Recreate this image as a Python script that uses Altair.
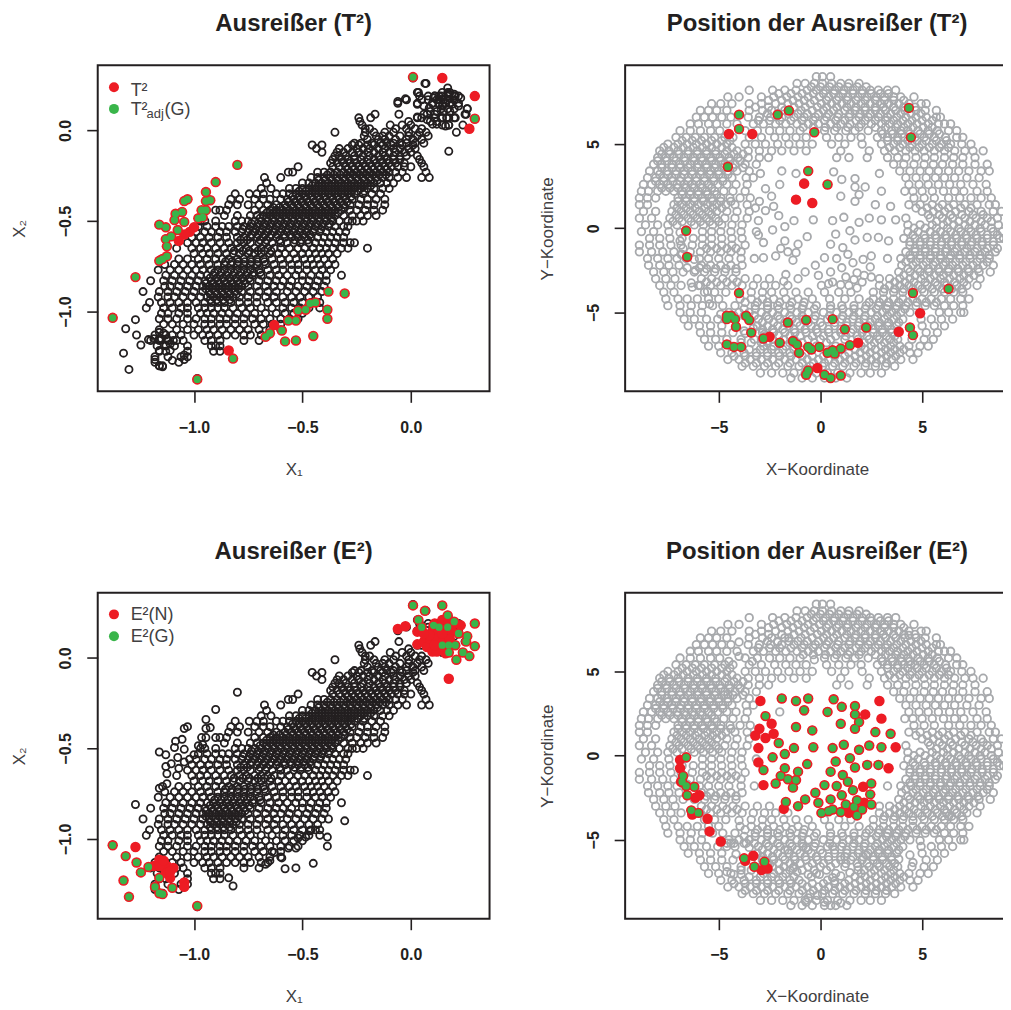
import altair as alt, pandas as pd

# --- scatter of the two features: rows of (X2, [X1 ...])
SCATTER_ROWS = [
(0.26,[0.07]),(0.21,[0.03,0.17,0.18]),(0.19,[0.04,0.08,0.11,0.13,0.14,0.17,0.2,0.22]),
(0.17,[-0.02,0.08,0.12,0.15,0.2]),(0.15,[-0.06,0.03,0.1,0.13,0.16,0.18,0.22]),
(0.12,[0.14,0.17,0.2,0.26]),(0.09,[-0.055,-0.165,0.075,0.25,0.11]),
(0.07,[-0.24,-0.185,0.05,0.03,0.145,0.165,0.2]),(0.05,[-0.235,-0.01,0.09,0.12]),
(0.03,[-0.225,-0.095,-0.04,0.0,0.145,0.175]),
(0.01,[-0.21,-0.19,-0.07,-0.02,0.05,0.02]),
(-0.01,[-0.35,-0.21,-0.17,-0.12,-0.08,-0.01,0.04,0.07]),
(-0.03,[-0.215,-0.16,-0.13,-0.1,-0.05,-0.01,0.03,0.08]),
(-0.05,[-0.2,-0.15,-0.12,-0.07,-0.02,0.01,0.05]),
(-0.07,[-0.26,-0.23,-0.18,-0.14,-0.11,-0.08,-0.05,-0.02,0.02,0.06]),
(-0.08,[-0.455,-0.41,-0.27,-0.24,-0.2,-0.17,-0.13,-0.09,-0.04,0.01]),
(-0.10,[-0.435,-0.33,-0.29,-0.25,-0.22,-0.19,-0.15,-0.12,-0.08,-0.05,-0.01,0.02]),
(-0.12,[-0.41,-0.34,-0.31,-0.27,-0.24,-0.2,-0.17,-0.13,-0.1,-0.07,-0.03,0.0]),
(-0.14,[-0.35,-0.33,-0.3,-0.26,-0.22,-0.19,-0.15,-0.12,-0.08,-0.05,-0.02,0.03]),
(-0.16,[-0.36,-0.32,-0.29,-0.26,-0.23,-0.2,-0.17,-0.14,-0.11,-0.08,-0.05,0.04]),
(-0.18,[-0.37,-0.34,-0.31,-0.28,-0.25,-0.22,-0.19,-0.16,-0.13,-0.1,-0.07,-0.03,0.05]),
(-0.20,[-0.52,-0.36,-0.33,-0.3,-0.27,-0.24,-0.21,-0.18,-0.15,-0.12,-0.09,-0.06,-0.03,0.0,0.06]),
(-0.23,[-0.545,-0.565,-0.43,-0.4,-0.37,-0.34,-0.31,-0.28,-0.25,-0.22,-0.19,-0.16,-0.13,-0.1,-0.07,-0.04,0.07]),
(-0.26,[-0.675,-0.6,-0.46,-0.43,-0.4,-0.37,-0.34,-0.31,-0.28,-0.25,-0.22,-0.19,-0.16,-0.13,-0.1,-0.06,-0.02,0.05,0.085]),
(-0.29,[-0.665,-0.5,-0.47,-0.44,-0.41,-0.38,-0.35,-0.32,-0.29,-0.26,-0.23,-0.2,-0.17,-0.14,-0.11,-0.08]),
(-0.32,[-0.645,-0.69,-0.56,-0.53,-0.5,-0.47,-0.44,-0.41,-0.38,-0.35,-0.32,-0.29,-0.26,-0.23,-0.2,-0.17,-0.13,-0.1]),
(-0.35,[-0.745,-0.81,-0.71,-0.68,-0.62,-0.59,-0.56,-0.53,-0.5,-0.47,-0.44,-0.41,-0.38,-0.35,-0.32,-0.29,-0.26,-0.22,-0.18,-0.14]),
(-0.38,[-0.83,-0.79,-0.72,-0.68,-0.65,-0.6,-0.57,-0.54,-0.51,-0.48,-0.45,-0.42,-0.39,-0.36,-0.33,-0.3,-0.27,-0.23,-0.2,-0.16,-0.12]),
(-0.41,[-0.84,-0.8,-0.75,-0.7,-0.66,-0.62,-0.58,-0.55,-0.52,-0.49,-0.46,-0.43,-0.4,-0.37,-0.34,-0.31,-0.28,-0.24,-0.2,-0.17,-0.12]),
(-0.44,[-0.9,-0.88,-0.85,-0.72,-0.68,-0.65,-0.62,-0.59,-0.56,-0.53,-0.5,-0.47,-0.44,-0.41,-0.38,-0.35,-0.32,-0.28,-0.25,-0.21,-0.17,-0.13]),
(-0.47,[-0.86,-0.8,-0.74,-0.71,-0.68,-0.65,-0.62,-0.59,-0.56,-0.53,-0.5,-0.47,-0.44,-0.41,-0.38,-0.35,-0.31,-0.27,-0.23,-0.2,-0.16]),
(-0.50,[-0.97,-0.95,-0.9,-0.81,-0.78,-0.75,-0.72,-0.69,-0.66,-0.63,-0.6,-0.57,-0.54,-0.51,-0.48,-0.45,-0.42,-0.39,-0.36,-0.33,-0.29,-0.25,-0.22,-0.27]),
(-0.53,[-0.98,-0.94,-0.9,-0.87,-0.84,-0.8,-0.77,-0.74,-0.71,-0.68,-0.65,-0.62,-0.59,-0.56,-0.53,-0.5,-0.47,-0.44,-0.41,-0.38,-0.35,-0.31,-0.29]),
(-0.56,[-0.99,-0.95,-0.92,-0.88,-0.85,-0.81,-0.78,-0.75,-0.72,-0.69,-0.66,-0.63,-0.6,-0.57,-0.54,-0.51,-0.48,-0.45,-0.42,-0.39,-0.36,-0.33,-0.3]),
(-0.59,[-1.01,-0.97,-0.93,-0.89,-0.85,-0.8,-0.77,-0.74,-0.71,-0.68,-0.65,-0.62,-0.58,-0.55,-0.52,-0.49,-0.46,-0.43,-0.4,-0.37,-0.34,-0.31]),
(-0.62,[-1.03,-0.99,-0.96,-0.92,-0.88,-0.84,-0.8,-0.77,-0.74,-0.7,-0.67,-0.64,-0.6,-0.57,-0.54,-0.51,-0.47,-0.44,-0.41,-0.38,-0.35,-0.31,-0.28,-0.26]),
(-0.65,[-1.08,-1.01,-0.97,-0.94,-0.9,-0.86,-0.83,-0.79,-0.76,-0.72,-0.69,-0.66,-0.63,-0.6,-0.56,-0.52,-0.49,-0.45,-0.42,-0.39,-0.36,-0.32,-0.29,-0.2]),
(-0.68,[-1.0,-0.96,-0.93,-0.89,-0.85,-0.82,-0.79,-0.75,-0.72,-0.69,-0.65,-0.61,-0.58,-0.54,-0.5,-0.47,-0.44,-0.41,-0.38,-0.34]),
(-0.71,[-1.07,-1.03,-0.98,-0.94,-0.9,-0.87,-0.84,-0.8,-0.77,-0.74,-0.71,-0.68,-0.64,-0.6,-0.56,-0.53,-0.49,-0.46,-0.43,-0.4,-0.36]),
(-0.74,[-1.135,-1.09,-1.05,-1.01,-0.97,-0.93,-0.89,-0.86,-0.83,-0.8,-0.77,-0.74,-0.71,-0.67,-0.63,-0.59,-0.55,-0.52,-0.48,-0.45,-0.42,-0.38,-0.35]),
(-0.77,[-1.165,-1.11,-1.07,-1.03,-0.99,-0.96,-0.92,-0.89,-0.86,-0.83,-0.8,-0.77,-0.74,-0.7,-0.66,-0.62,-0.59,-0.55,-0.52,-0.48,-0.44,-0.41,-0.37]),
(-0.80,[-1.13,-1.09,-1.05,-1.01,-0.97,-0.94,-0.91,-0.88,-0.85,-0.82,-0.79,-0.76,-0.73,-0.69,-0.65,-0.61,-0.57,-0.53,-0.5,-0.46,-0.42,-0.39,-0.32]),
(-0.83,[-1.2,-1.14,-1.1,-1.06,-1.02,-0.98,-0.95,-0.92,-0.89,-0.86,-0.83,-0.8,-0.77,-0.74,-0.7,-0.66,-0.62,-0.59,-0.55,-0.5,-0.47,-0.43,-0.39]),
(-0.86,[-1.135,-1.11,-1.07,-1.03,-0.99,-0.96,-0.93,-0.9,-0.87,-0.84,-0.81,-0.78,-0.75,-0.71,-0.67,-0.63,-0.6,-0.56,-0.52,-0.48,-0.44,-0.4]),
(-0.89,[-1.235,-1.16,-1.12,-1.08,-1.04,-1.0,-0.96,-0.93,-0.9,-0.87,-0.84,-0.81,-0.78,-0.74,-0.7,-0.66,-0.62,-0.57,-0.53,-0.49,-0.45,-0.41]),
(-0.92,[-1.165,-1.12,-1.09,-1.05,-1.01,-0.97,-0.94,-0.91,-0.88,-0.85,-0.82,-0.79,-0.75,-0.71,-0.67,-0.63,-0.59,-0.55,-0.51,-0.47,-0.43]),
(-0.95,[-1.205,-1.15,-1.11,-1.07,-1.03,-0.99,-0.95,-0.92,-0.89,-0.86,-0.83,-0.79,-0.75,-0.71,-0.66,-0.62,-0.58,-0.54,-0.5,-0.46,-0.42]),
(-0.98,[-1.22,-1.14,-1.1,-1.06,-1.03,-0.98,-0.95,-0.92,-0.89,-0.86,-0.82,-0.78,-0.74,-0.69,-0.64,-0.59,-0.55,-0.51,-0.47,-0.42]),
(-1.01,[-1.15,-1.12,-1.07,-1.03,-0.97,-0.94,-0.91,-0.87,-0.84,-0.8,-0.76,-0.72,-0.67,-0.62,-0.58,-0.54,-0.5]),
(-1.04,[-1.16,-1.12,-1.08,-1.03,-0.99,-0.95,-0.92,-0.88,-0.85,-0.81,-0.77,-0.73,-0.69,-0.65,-0.6,-0.56,-0.52]),
(-1.07,[-1.14,-1.1,-1.05,-1.0,-0.95,-0.92,-0.88,-0.85,-0.81,-0.77,-0.72,-0.68,-0.64,-0.6]),
(-1.10,[-1.16,-1.08,-1.03,-0.98,-0.94,-0.91,-0.87,-0.83,-0.79,-0.75,-0.7,-0.65,-0.6]),
(-1.13,[-1.18,-1.13,-1.1,-1.06,-1.0,-0.96,-0.93,-0.89,-0.85,-0.81,-0.77,-0.74,-0.69,-0.66]),
(-1.16,[-1.2,-1.16,-1.12,-1.08,-1.05,-0.95,-0.92,-0.88,-0.77,-0.7]),
(-1.19,[-1.17,-1.13,-1.09,-1.03,-0.92,-0.9,-0.88]),
(-1.22,[-1.16,-1.13,-1.03,-0.91,-0.88]),
(-1.25,[-1.18,-1.12,-1.06,-1.03]),(-1.28,[-1.18,-1.07]),(-1.30,[-1.16,-1.145]),
# the solid black core
(-0.215,[-0.29,-0.26,-0.23,-0.2,-0.17,-0.14,-0.11]),
(-0.245,[-0.385,-0.355,-0.325,-0.295,-0.265,-0.235,-0.205,-0.175,-0.145,-0.115]),
(-0.275,[-0.425,-0.395,-0.365,-0.335,-0.305,-0.275,-0.245,-0.215,-0.185,-0.155]),
(-0.305,[-0.455,-0.425,-0.395,-0.365,-0.335,-0.305,-0.275,-0.245,-0.215,-0.185]),
(-0.335,[-0.515,-0.485,-0.455,-0.425,-0.395,-0.365,-0.335,-0.305,-0.275,-0.245,-0.215]),
(-0.365,[-0.545,-0.515,-0.485,-0.455,-0.425,-0.395,-0.365,-0.335,-0.305,-0.275]),
(-0.395,[-0.565,-0.535,-0.505,-0.475,-0.445,-0.415,-0.385,-0.355,-0.325,-0.295]),
(-0.425,[-0.635,-0.605,-0.575,-0.545,-0.515,-0.485,-0.455,-0.425,-0.395,-0.365,-0.335,-0.305]),
(-0.455,[-0.665,-0.635,-0.605,-0.575,-0.545,-0.515,-0.485,-0.455,-0.425,-0.395,-0.365,-0.335]),
(-0.485,[-0.695,-0.665,-0.635,-0.605,-0.575,-0.545,-0.515,-0.485,-0.455,-0.425,-0.395,-0.365]),
(-0.515,[-0.735,-0.705,-0.675,-0.645,-0.615,-0.585,-0.555,-0.525,-0.495,-0.465,-0.435,-0.405,-0.375]),
(-0.545,[-0.775,-0.745,-0.715,-0.685,-0.655,-0.625,-0.595,-0.565,-0.535,-0.505,-0.475,-0.445,-0.415]),
(-0.575,[-0.735,-0.705,-0.675,-0.645,-0.615,-0.585,-0.555,-0.525,-0.495,-0.465]),
(-0.605,[-0.785,-0.755,-0.695,-0.665,-0.605,-0.535,-0.505,-0.475]),
(-0.665,[-0.815,-0.775,-0.745,-0.705,-0.675,-0.645]),
(-0.725,[-0.855,-0.825,-0.795,-0.765,-0.735,-0.705,-0.675]),
(-0.785,[-0.905,-0.875,-0.845,-0.815,-0.785,-0.755,-0.725,-0.695]),
(-0.815,[-0.925,-0.895,-0.865,-0.835,-0.805,-0.775,-0.745]),
(-0.845,[-0.945,-0.915,-0.885,-0.855,-0.825,-0.795,-0.765]),
(-0.875,[-0.945,-0.915,-0.885,-0.855,-0.825,-0.795]),
(-0.905,[-0.925,-0.895,-0.865,-0.835,-0.805]),
(-0.935,[-0.925,-0.895,-0.865,-0.835]),
]

# outliers in feature space, T² panel
T_BOTH = [(0.01,0.295),(0.295,0.065),(-0.8,-0.19),(-0.9,-0.285),(-0.945,-0.34),(-0.925,-0.385),(-0.945,-0.39),
(-1.03,-0.38),(-1.045,-0.39),(-1.055,-0.45),(-1.085,-0.46),(-1.09,-0.495),(-1.045,-0.505),(-0.945,-0.44),(-0.965,-0.44),
(-0.98,-0.485),(-0.96,-0.48),(-1.16,-0.52),(-1.13,-0.535),(-1.075,-0.55),(-1.105,-0.585),(-1.13,-0.6),(-1.125,-0.64),
(-1.125,-0.695),(-1.16,-0.72),(-1.145,-0.71),(-1.27,-0.81),(-1.375,-1.035),(-0.985,-1.375),(-0.82,-1.26),
(-0.38,-0.89),(-0.305,-0.9),(-0.44,-0.95),(-0.465,-0.955),(-0.485,-0.99),(-0.52,-0.995),(-0.385,-0.99),(-0.385,-1.04),
(-0.53,-1.05),(-0.565,-1.05),(-0.595,-1.105),(-0.65,-1.12),(-0.67,-1.14),(-0.45,-1.135),(-0.53,-1.16),(-0.58,-1.165)]
T_RED = [(0.145,0.29),(0.295,0.19),(0.27,0.01),(-1.0,-0.535),(-1.02,-0.56),(-1.045,-0.575),(-1.07,-0.61),(-0.84,-1.215),(-0.63,-1.075)]

# outliers in feature space, E² panel
E_BOTH = [(0.01,0.29),(0.065,0.26),(0.145,0.29),(0.295,0.19),(0.295,0.065),(0.27,0.01),(0.24,0.03),(0.21,-0.01),(0.26,0.12),
(0.255,0.09),(0.035,0.21),(0.175,0.03),(0.22,0.135),(0.175,0.07),(0.205,0.07),(0.105,0.18),(0.13,0.17),(0.17,0.17),(0.2,0.2),
(0.145,0.07),(0.05,0.17),(0.17,0.235),
(-1.375,-1.035),(-1.315,-1.095),(-1.265,-1.13),(-1.245,-1.185),(-1.325,-1.23),(-1.3,-1.32),(-0.985,-1.37),(-1.18,-1.265),
(-1.16,-1.3),(-1.145,-1.305),(-1.1,-1.27),(-1.16,-1.215),(-1.21,-1.155)]
E_RED = [(-0.06,0.16),(-0.025,0.175),(0.175,-0.115),(0.03,0.145),(0.03,0.075),(0.06,0.09),(0.075,0.06),(0.1,0.035),(0.12,0.035),
(0.16,0.025),(0.11,0.19),(0.145,0.21),(0.175,0.2),(0.205,0.19),(0.23,0.18),(0.1,0.15),(0.13,0.145),(0.16,0.15),(0.19,0.145),
(0.09,0.105),(0.12,0.105),(0.15,0.105),(0.18,0.105),(0.11,0.07),(0.085,0.125),(0.145,0.135),(0.06,0.135),
(-1.27,-1.045),(-1.16,-1.115),(-1.185,-1.15),(-1.15,-1.15),(-1.125,-1.15),(-1.095,-1.16),(-1.13,-1.185),(-1.11,-1.215),
(-1.11,-1.18),(-1.045,-1.24),(-1.045,-1.265),(-1.16,-1.15),(-1.14,-1.12)]

# --- positions: rows of (Y, [X ...])
POS_ROWS = [
(9.0,[-0.2,0.1,0.5]),(8.6,[-1.15,-0.75,-0.3,0.1,0.55,1.0,1.4,1.9]),
(8.2,[-3.5,-2.35,-1.75,-1.2,-0.65,-0.2,0.25,0.7,1.15,1.6,2.05,2.45,2.85,3.3,3.7]),
(7.8,[-4.55,-4.0,-2.9,-2.3,-1.65,-1.1,-0.6,-0.05,0.4,0.9,1.35,1.85,2.3,2.75,3.15,3.6,3.95,4.6]),
(7.4,[-5.35,-4.9,-4.35,-3.5,-2.9,-2.2,-1.6,-1.05,-0.5,0.05,0.55,1.05,1.5,2.0,2.45,2.95,3.35,3.85,4.35,4.95,5.2]),
(7.0,[-5.9,-5.5,-5.1,-4.6,-3.5,-2.85,-2.4,-1.75,-0.95,-0.4,0.15,0.65,1.2,1.7,2.2,2.7,3.2,3.7,4.15,4.7,5.15,5.7]),
(6.6,[-6.1,-5.7,-5.3,-4.85,-4.4,-3.55,-3.0,-2.45,-1.9,-1.3,-0.8,-0.25,0.3,0.85,1.4,1.9,2.35,2.85,3.3,3.75,4.2,4.7,5.2,5.7,5.9]),
(6.2,[-6.4,-6.0,-5.5,-5.1,-4.6,-4.1,-3.3,-2.8,-2.2,-1.7,-1.15,-0.6,-0.1,0.5,1.0,1.45,2.0,2.5,3.0,3.4,3.8,4.3,4.75,5.3,5.8,6.1,6.4]),
(5.8,[-6.9,-6.4,-5.9,-5.4,-4.95,-3.7,-3.1,-2.5,-2.0,-1.5,-1.0,0.2,0.7,1.25,1.7,2.35,3.0,3.5,3.95,4.3,4.8,5.3,5.75,6.3,6.7]),
(5.4,[-7.1,-6.6,-6.15,-5.7,-5.2,-4.7,-4.3,-3.5,-2.9,-2.25,-1.7,-1.2,-0.7,0.3,0.9,1.5,2.0,2.8,3.3,3.8,4.1,4.65,5.1,5.6,6.15,6.7,7.0]),
(5.0,[-7.5,-7.0,-6.55,-6.1,-5.6,-5.1,-4.6,-3.7,-3.2,-2.7,-2.1,-1.55,-1.0,-0.4,0.55,1.2,2.05,3.0,3.6,4.05,4.5,5.0,5.5,5.95,6.4,6.95,7.4]),
(4.6,[-7.9,-7.45,-7.0,-6.5,-6.05,-5.6,-5.15,-4.6,-4.1,-3.55,-3.0,-2.4,-1.9,-1.3,-0.7,1.0,2.4,3.15,3.65,4.2,4.65,5.1,5.6,6.1,6.6,7.1,7.5,8.0]),
(4.2,[-8.0,-7.6,-7.2,-6.7,-6.25,-5.85,-5.4,-4.95,-4.5,-4.05,-3.55,-3.0,-2.55,0.8,1.4,2.3,3.3,3.8,4.2,4.7,5.15,5.6,6.1,6.55,7.0,7.6]),
(3.8,[-8.2,-7.8,-7.3,-6.9,-6.4,-6.0,-5.6,-5.15,-4.7,-4.2,-3.7,-3.15,3.6,4.1,4.6,5.1,5.55,6.0,6.5,7.0,7.6,8.2]),
(3.4,[-8.4,-8.0,-7.55,-7.1,-6.7,-6.3,-5.85,-5.4,-5.0,-4.55,-4.1,-3.5,3.9,4.4,4.9,5.35,5.8,6.3,6.8,7.3,7.9,8.3]),
(3.0,[-8.5,-8.1,-7.7,-7.3,-6.85,-6.5,-6.1,-5.7,-5.25,-4.8,-4.35,-3.65,-3.3,4.2,4.7,5.2,5.65,6.1,6.6,7.2,7.8]),
(2.6,[-8.7,-8.3,-7.9,-7.5,-7.05,-6.7,-6.3,-5.9,-5.5,-5.05,-4.6,-4.15,-3.6,-2.0,4.35,4.85,5.3,5.8,6.35,6.9,7.5,8.15]),
(2.2,[-8.8,-8.45,-8.0,-7.6,-7.2,-6.8,-6.4,-6.0,-5.6,-5.2,-4.75,-4.3,-3.7,4.15,4.55,5.0,5.5,6.05,6.6,7.05,7.7,8.2]),
(1.8,[-8.9,-8.5,-8.1,-7.0,-6.6,-6.2,-5.8,-5.35,-4.9,-4.45,-3.95,-3.45,4.6,5.1,5.6,6.3,6.85,7.4,7.9,8.4]),
(1.4,[-8.9,-8.5,-7.2,-6.8,-6.4,-6.0,-5.55,-5.1,-4.65,-4.2,-3.6,4.35,4.9,5.5,6.0,6.55,7.1,7.7,8.3,8.6]),
(1.0,[-8.7,-8.1,-7.3,-6.85,-6.4,-5.95,-5.5,-5.1,-4.6,-4.1,-3.5,5.0,5.55,6.1,6.65,7.3,7.9,8.5,8.9]),
(0.6,[-8.9,-8.3,-7.4,-6.95,-6.5,-6.05,-5.6,-5.15,-4.7,-4.2,-3.6,4.2,5.4,6.0,6.5,7.1,7.65,8.2,8.7]),
(0.2,[-8.6,-8.0,-7.5,-7.05,-6.2,-5.75,-5.3,-4.85,-4.35,-3.85,4.3,4.9,5.5,6.05,6.55,7.1,7.6,8.1,8.75]),
(-0.2,[-8.8,-8.2,-7.45,-5.8,-5.35,-4.9,-4.4,-3.9,-3.15,4.3,4.8,5.4,5.9,6.4,6.9,7.4,7.9,8.5,8.95]),
(-0.6,[-8.4,-7.9,-7.4,-6.8,-6.25,-5.8,-5.35,-4.85,-4.35,-3.85,4.1,4.65,5.15,5.7,6.2,6.7,7.2,7.7,8.2,8.8,9.0]),
(-1.0,[-8.9,-8.4,-7.9,-7.35,-6.85,-6.3,-5.8,-5.35,-4.85,-4.35,-3.7,4.4,4.9,5.4,5.95,6.45,6.95,7.4,7.95,8.5]),
(-1.4,[-8.9,-8.3,-7.75,-7.2,-6.4,-5.9,-5.4,-4.9,-4.4,-3.9,4.2,4.65,5.15,5.65,6.15,6.6,7.1,7.6,8.1,8.6]),
(-1.8,[-8.5,-8.0,-7.5,-7.05,-5.95,-5.5,-5.0,-4.5,-3.9,-3.25,3.3,3.95,4.45,4.9,5.4,5.9,6.35,6.85,7.35,7.85,8.3]),
(-2.2,[-8.45,-7.9,-7.45,-6.95,-5.85,-5.4,-4.9,-4.4,-3.85,4.0,4.55,5.05,5.55,6.05,6.5,7.0,7.5,8.0,8.5]),
(-2.6,[-8.2,-7.7,-7.25,-6.75,-6.2,-5.7,-5.2,-4.7,-4.15,3.85,4.4,4.9,5.35,5.85,6.3,6.8,7.3,7.8,8.35]),
(-3.0,[-8.1,-7.6,-7.15,-5.85,-5.35,-4.8,-4.3,-3.7,-3.1,-2.5,2.9,3.4,3.9,4.4,4.95,5.4,5.9,6.35,6.85,7.3,7.85]),
(-3.4,[-7.9,-7.35,-6.85,-5.9,-5.4,-4.9,-4.35,-3.85,-3.3,-2.75,-2.2,-1.6,2.9,3.4,3.9,4.35,4.8,5.25,5.75,6.2,6.7,7.2,7.7]),
(-3.8,[-7.7,-7.2,-5.7,-5.2,-4.65,-3.4,-2.85,-2.4,-1.8,-1.2,-0.6,0.2,0.9,1.5,2.6,3.1,3.6,4.05,5.1,5.6,6.1,6.55,7.0]),
(-4.2,[-7.6,-7.0,-6.55,-6.05,-5.5,-5.0,-3.95,-3.4,-2.85,-2.3,-1.7,-1.1,-0.4,0.45,1.2,1.9,2.6,3.1,3.6,4.05,4.55,5.0,5.45,5.95,6.4,6.9,7.3]),
(-4.6,[-7.5,-6.9,-6.35,-5.8,-5.3,-4.8,-4.2,-3.2,-2.6,-2.1,-1.5,-0.85,-0.2,0.5,1.05,1.65,2.25,2.85,3.3,3.75,4.2,4.7,5.15,5.6,6.1,6.55,7.0]),
(-5.0,[-6.9,-6.4,-5.85,-4.5,-4.0,-3.5,-2.9,-2.35,-1.75,-1.15,-0.6,0.15,0.8,1.4,1.9,2.5,3.05,3.5,3.95,4.4,5.85,6.3,6.9,7.05]),
(-5.4,[-6.7,-6.2,-5.6,-5.05,-3.05,-2.55,-2.0,-1.4,-0.85,-0.3,0.35,1.05,1.6,2.15,2.7,3.15,3.6,4.05,4.95,5.45,5.95,6.5]),
(-5.8,[-6.5,-5.95,-5.4,-4.85,-3.1,-2.6,-2.1,-1.55,-1.0,-0.45,0.1,0.7,1.3,1.85,2.35,2.85,3.3,3.75,5.0,5.6,6.1]),
(-6.2,[-5.9,-5.4,-4.85,-4.3,-2.85,-2.3,-1.75,-1.25,-0.7,-0.15,0.4,1.0,1.5,2.05,2.6,3.05,3.5,5.2,5.75]),
(-6.6,[-5.7,-5.15,-4.6,-3.9,-2.9,-2.35,-1.8,-1.3,-0.6,0.0,0.5,1.2,1.85,2.4,2.9,3.4,3.8,4.5,5.1,5.55]),
(-7.0,[-5.5,-5.0,-4.4,-2.8,-2.3,-1.7,-0.2,0.75,2.0,2.5,3.0,3.45,3.9,4.35,4.9,5.3]),
(-7.4,[-4.9,-4.35,-3.75,-3.15,-2.6,-2.05,-1.5,1.4,1.95,2.45,3.0,3.45,3.9,4.4,4.8]),
(-7.8,[-4.55,-4.0,-3.45,-2.9,-2.35,-1.75,-1.2,-0.65,-0.1,0.4,0.95,1.45,2.0,2.5,3.0,3.5,3.95,4.55]),
(-8.2,[-3.85,-3.3,-2.75,-2.2,-1.6,-1.05,-0.5,0.1,0.6,1.1,1.65,2.2,2.7,3.2,3.65]),
(-8.6,[-2.95,-2.4,-1.85,-1.3,-0.75,-0.2,0.35,0.85,1.45,2.0,2.45,3.0]),
(-8.9,[-1.45,-0.9,-0.4,0.2,0.75,1.3]),
# denser sectors of the ring
(5.2,[-6.8,-6.3,-5.85,-5.35,-4.85,-4.45,3.3,3.8,4.3,4.75,5.2,5.7,6.2]),
(4.8,[-7.7,-7.2,-6.75,-6.25,-5.8,-5.35,-4.85,-4.35,3.4,3.9,4.4,4.85,5.35,5.85,6.3]),
(4.4,[-7.8,-7.4,-6.95,-6.5,-6.05,-5.6,-5.15,-4.7,-4.25,-3.8]),
(4.0,[-8.0,-7.55,-7.1,-6.65,-6.2,-5.8,-5.35,-4.9,-4.45,-3.95]),
(3.6,[-7.8,-7.3,-6.9,-6.5,-6.05,-5.6,-5.2,-4.75,-4.3,-3.8]),
(3.2,[-7.9,-7.5,-7.1,-6.7,-6.3,-5.9,-5.45,-5.0,-4.55]),
(2.8,[-8.1,-7.7,-7.25,-6.9,-6.5,-6.1,-5.7,-5.25,-4.8]),
(2.4,[-7.8,-7.4,-7.0,-6.6,-6.2,-5.8,-5.35]),
(2.0,[-6.8,-6.4,-6.0,-5.55,-5.1]),
(1.6,[-7.0,-6.6,-6.2,-5.75,-5.3,-4.9,-4.4]),
(1.2,[-7.05,-6.6,-6.15,-5.7,-5.3,-4.85,4.7,5.25,5.8,6.3,6.9,7.4]),
(0.8,[-7.1,-6.7,-6.25,-5.8,-5.35,5.3,5.85,6.4,6.95,7.5,8.0]),
(0.4,[-7.25,-6.8,-6.35,-5.9,-5.45,-5.0,5.7,6.25,6.8,7.35,7.9,8.4]),
(8.4,[-0.45,0.0,0.45,0.9,1.35,1.8,2.25]),
(8.0,[-2.05,-1.45,-0.9,-0.35,0.15,0.65,1.1,1.6,2.05,2.5,2.95,3.35]),
(7.6,[-2.55,-1.9,-1.35,-0.8,-0.3,0.3,0.8,1.3,1.75,2.2,2.7,3.15,3.6,4.1]),
(7.2,[-3.2,-2.55,-1.9,-1.3,-0.75,-0.15,0.3,0.8,1.3,1.75,2.2,2.7,3.1,3.6,4.1,4.65]),
(6.8,[-2.6,-2.1,-1.55,-1.1,-0.65,-0.1,0.4,0.9,1.45,1.95,2.45,2.95,3.45,3.95,4.45,4.95]),
(6.4,[-3.05,-2.5,-2.0,-1.45,-0.9,-0.35,0.2,0.75,1.2,1.75,2.2,2.7,3.2,3.6,4.05,4.5,5.0,5.5]),
(6.0,[-0.85,-0.35,0.25,0.8,1.35,1.9,2.7,3.2,3.7,4.1,4.55,5.05,5.5]),
(5.6,[3.05,3.55,4.0,4.4,4.9,5.35,5.85]),
(0.0,[4.6,5.15,5.7,6.25,6.8,7.3,7.85,8.4]),
(-0.4,[4.55,5.1,5.65,6.15,6.65,7.15,7.65,8.2,8.7]),
(-0.8,[4.4,4.9,5.4,5.95,6.45,6.95,7.45,7.95,8.5]),
(-1.2,[-5.6,-5.1,-4.6,-4.15,4.65,5.15,5.65,6.2,6.7,7.2,7.7,8.2,8.7]),
(-1.6,[4.4,4.9,5.4,5.9,6.4,6.85,7.35,7.85,8.3]),
(-2.0,[4.2,4.7,5.2,5.65,6.15,6.65,7.15,7.7,8.2]),
(-2.4,[-5.6,-5.15,-4.65,-4.15,4.3,4.8,5.3,5.8,6.3,6.75,7.25,7.75]),
(-2.8,[4.1,4.65,5.1,5.6,6.05,6.55,7.05,7.55]),
(-3.2,[-5.6,-5.1,-4.6,-4.1,3.65,4.15,4.6,5.15,5.65,6.1,6.6,7.05]),
(-3.6,[3.15,3.65,4.1,4.55,5.0,5.5,6.0,6.45,6.95]),
(-4.4,[-3.7,-3.1,-2.6,-2.0,-1.4,-0.8,2.4,2.9,3.35,3.85,4.3,4.75,5.2,5.7]),
(-4.8,[-3.75,-3.2,-2.6,-2.05,-1.45,-0.9,-0.3,0.5,1.1,1.65,2.2,2.75,3.25,3.7,4.15]),
(-5.2,[-4.25,-3.75,-3.25,-2.65,-2.1,-1.5,-0.9,-0.25,0.45,1.1,1.65,2.2,2.8,3.3,3.75]),
(-5.6,[-2.85,-2.3,-1.75,-1.15,-0.6,0.0,0.7,1.3,1.9,2.45,2.9,3.35,3.85]),
(-6.0,[-2.85,-2.35,-1.85,-1.3,-0.75,-0.2,0.4,1.0,1.6,2.1,2.6,3.05,3.5]),
(-6.4,[-2.6,-2.05,-1.5,-1.0,-0.4,0.15,0.75,1.25,1.8,2.3,2.8,3.25,3.65]),
(-6.8,[-3.9,-3.4,-2.6,-2.05,-1.5,-0.9,-0.3,0.3,2.15,2.65,3.15,3.6]),
(-7.2,[-3.5,-2.95,-2.4,-1.85,-1.3,1.7,2.2,2.7,3.2,3.65,4.1]),
(-7.6,[-4.25,-3.7,-3.15,-2.6,-2.0,-1.45,-0.9,-0.4,0.15,0.7,1.2,1.7,2.25,2.75,3.25,3.7]),
(-8.0,[-3.7,-3.15,-2.6,-2.05,-1.5,-0.9,-0.35,0.2,0.7,1.2,1.75,2.25,2.75,3.25]),
]

PT_BOTH = [(-4.0,6.75),(-4.0,5.9),(-2.1,6.75),(-1.55,7.0),(-0.3,5.7),(4.35,7.15),(4.45,5.4),(-4.55,3.65),(-0.6,3.4),(0.35,2.6),
(-6.6,-0.15),(-6.55,-1.7),(-4.0,-3.85),(4.55,-3.85),(6.3,-3.6),(-4.6,-5.2),(-4.4,-5.2),(-4.6,-5.4),(-4.2,-5.4),(-3.65,-5.2),
(-3.5,-5.45),(-4.15,-5.85),(-3.4,-6.2),(-1.6,-5.6),(-0.7,-5.45),(0.6,-5.4),(1.2,-6.0),(2.25,-5.9),(4.4,-5.9),(4.55,-6.35),
(-4.6,-6.9),(-4.25,-7.05),(-3.9,-7.05),(-2.8,-6.55),(-2.0,-6.8),(-1.35,-6.7),(-1.15,-6.9),(-1.05,-7.4),(-0.6,-7.05),(-0.45,-7.2),
(-0.05,-7.05),(0.35,-7.4),(0.6,-7.25),(0.7,-7.45),(1.0,-7.15),(1.45,-6.95),(-0.6,-8.45),(-0.7,-8.7),(0.2,-8.7),(0.5,-8.9),(1.0,-8.75)]
PT_RED = [(-4.5,5.6),(-3.35,5.6),(-0.8,2.65),(-1.2,1.7),(-0.4,1.5),(4.9,-5.05),(3.85,-6.15),(1.85,-6.8),(-0.15,-8.3),(-2.5,-6.45)]

PE_BOTH = [(-1.9,3.4),(-1.2,3.25),(-0.6,3.4),(0.65,3.35),(-0.8,2.7),(1.05,2.9),(0.35,2.6),(1.7,2.95),(1.7,2.45),(1.9,2.0),(-2.7,2.35),
(1.0,1.9),(-1.2,1.7),(-0.4,1.5),(1.7,1.6),(2.7,1.4),(3.45,1.3),(-2.05,0.75),(-1.3,0.45),(-0.35,0.5),(0.6,0.45),(1.15,0.65),(1.9,0.35),
(2.4,0.6),(3.0,0.5),(-2.35,-0.1),(-1.75,0.1),(-0.65,-0.5),(0.75,-0.35),(1.45,-0.15),(1.7,-0.7),(2.3,-0.55),(2.85,-0.55),(-2.8,-0.85),
(-1.75,-0.75),(-1.1,-0.95),(0.5,-0.95),(1.1,-1.15),(-1.95,-1.2),(-1.6,-1.4),(-1.2,-1.45),(-2.2,-1.65),(-1.35,-1.9),(1.35,-1.55),
(0.2,-1.75),(0.8,-1.8),(2.5,-1.65),(1.6,-2.05),(-0.25,-2.2),(2.45,-2.3),(1.05,-2.35),(-1.7,-2.75),(-0.75,-2.6),(-1.1,-3.0),(-0.1,-2.8),
(0.5,-2.6),(1.8,-2.65),(1.25,-2.9),(2.5,-2.9),(1.65,-3.05),(2.05,-3.2),(0.6,-3.2),(1.0,-3.35),(0.4,-3.3),(0.05,-3.4),(1.8,-3.55),
(-6.6,-0.1),(-6.75,-1.2),(-6.8,-1.55),(-6.2,-1.85),(-6.6,-1.8),(-6.55,-2.35),(-6.35,-3.25),(-6.0,-3.4),(-3.75,-6.1),(-3.25,-6.6),(-2.75,-6.3)]
PE_RED = [(-2.95,3.25),(2.9,3.25),(2.2,2.45),(3.0,2.2),(-2.4,1.9),(-3.0,1.6),(-3.2,1.2),(-2.7,1.05),(-2.3,1.3),(-3.05,0.45),(3.7,0.5),
(-3.05,-0.4),(3.35,-0.75),(-2.8,-1.75),(2.1,-1.85),(-1.8,-3.15),(2.15,-2.8),(1.4,-3.4),(-6.9,-0.25),(-6.9,-0.75),(-6.85,-1.55),
(-5.95,-2.35),(-6.15,-2.5),(-6.3,-3.5),(-5.55,-3.75),(-5.45,-4.5),(-4.9,-5.1),(-3.3,-5.95),(-3.7,-6.25),(-2.9,-6.8),(-2.6,-6.7)]

FONT = "Liberation Sans"
INK = "#231f20"
TXT = "#414042"
RED = "#ed1c24"
GREEN = "#39b54a"
GREY = "#a7a9ac"

def rows_to_df(rows, extra):
    pts = [(x, y) for y, xs in rows for x in xs] + [p for lst in extra for p in lst]
    return pd.DataFrame(pts, columns=["x", "y"])

def df(lst):
    return pd.DataFrame(lst, columns=["x", "y"])

SCATTER = rows_to_df(SCATTER_ROWS, [T_BOTH, T_RED, E_BOTH, E_RED])
POSITIONS = rows_to_df(POS_ROWS, [PT_BOTH, PT_RED, PE_BOTH, PE_RED])
one = pd.DataFrame({"k": [0]})

def panel(base, both, red, dom_x, dom_y, ticks, fmt, xt, yt, title, colr, w, ring, legend):
    sx = alt.Scale(domain=dom_x, nice=False, zero=False)
    sy = alt.Scale(domain=dom_y, nice=False, zero=False)
    ax = alt.Axis(values=ticks, format=fmt, title=xt, grid=False, tickSize=11, tickWidth=1.6, tickColor=INK, domain=False,
                  labelFontSize=16, labelFontWeight="bold", labelColor=INK, labelFont=FONT, titleFont=FONT, titleFontSize=17,
                  titleFontWeight="normal", titleColor=TXT, labelPadding=17, titlePadding=26, labelFlush=False, labelOverlap=False)
    ay = alt.Axis(values=ticks, format=fmt, title=yt, grid=False, tickSize=11, tickWidth=1.6, tickColor=INK, domain=False,
                  labelFontSize=16, labelFontWeight="bold", labelColor=INK, labelFont=FONT, labelAngle=270, labelAlign="center",
                  labelBaseline="bottom", titleFont=FONT, titleFontSize=17, titleFontWeight="normal", titleColor=TXT,
                  labelPadding=13, titlePadding=29, labelFlush=False, labelOverlap=False)
    enc = dict(x=alt.X("x:Q", scale=sx, axis=ax), y=alt.Y("y:Q", scale=sy, axis=ay))
    layers = [
        alt.Chart(base).mark_circle(size=ring, fillOpacity=0, stroke=colr, strokeWidth=1.8, opacity=1).encode(**enc),
        alt.Chart(df(both + red)).mark_circle(size=110, color=RED, opacity=1).encode(**enc),
        alt.Chart(df(both)).mark_circle(size=53, color=GREEN, opacity=1).encode(**enc),
    ]
    for (cx, cy, c) in legend.get("pts", []):
        layers.append(alt.Chart(one).mark_circle(size=100, color=c, opacity=1).encode(x=alt.value(cx), y=alt.value(cy)))
    for (tx, ty, s, fs) in legend.get("txt", []):
        layers.append(alt.Chart(one).mark_text(text=s, font=FONT, fontSize=fs, color=TXT, align="left", baseline="alphabetic").encode(x=alt.value(tx), y=alt.value(ty)))
    return alt.layer(*layers).properties(width=w, height=327,
        title=alt.TitleParams(title, font=FONT, fontSize=24, fontWeight="bold", color=INK, offset=29))

L = ([-1.444, 0.363], [-1.441, 0.36])
R = ([-9.6, 9.27], [-9.69, 9.68])
t_leg = {"pts": [(16.3, 22, RED), (16.3, 43.7, GREEN)],
         "txt": [(33, 31, "T²", 18), (33, 50, "T²", 18), (49, 53, "adj", 13), (67, 50, "(G)", 18)]}
e_leg = {"pts": [(16.3, 21.7, RED), (16.3, 43.7, GREEN)],
         "txt": [(33, 27, "E²(N)", 18), (33, 49, "E²(G)", 18)]}
TL = [-1.0, -0.5, 0.0]
TR = [-5, 0, 5]
p1 = panel(SCATTER, T_BOTH, T_RED, *L, TL, ".1f", "X₁", "X₂", "Ausreißer (T²)", INK, 393, 52, t_leg)
p2 = panel(POSITIONS, PT_BOTH, PT_RED, *R, TR, "d", "X−Koordinate", "Y−Koordinate", "Position der Ausreißer (T²)", GREY, 385, 58, {})
p3 = panel(SCATTER, E_BOTH, E_RED, *L, TL, ".1f", "X₁", "X₂", "Ausreißer (E²)", INK, 393, 52, e_leg)
p4 = panel(POSITIONS, PE_BOTH, PE_RED, *R, TR, "d", "X−Koordinate", "Y−Koordinate", "Position der Ausreißer (E²)", GREY, 385, 58, {})

chart = alt.concat(p1, p2, p3, p4, columns=2, spacing={"row": 202, "column": 136}, bounds="flush").properties(
    padding={"left": 2, "top": 2, "right": -9, "bottom": -3}
).configure_view(stroke=INK, strokeWidth=2)
chart.save("out.html", embed_options={"renderer": "svg", "actions": False})
